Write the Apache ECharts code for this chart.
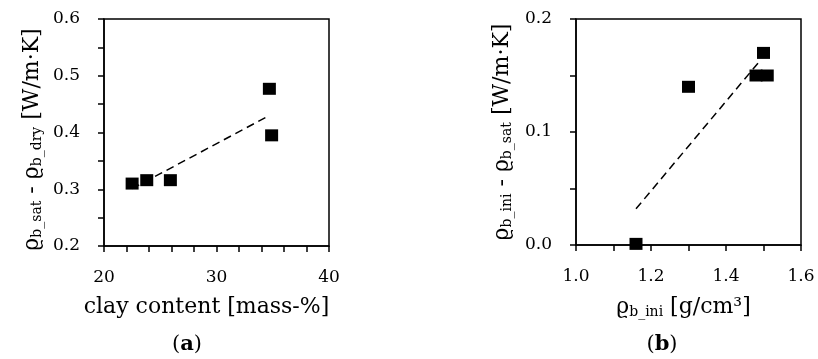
<!DOCTYPE html>
<html><head><meta charset="utf-8">
<script src="https://cdn.jsdelivr.net/npm/echarts@6/dist/echarts.min.js"></script>
<style>html,body{margin:0;padding:0;background:#fff}#c{width:818px;height:359px}</style>
</head><body><div id="c"></div>
<script>
// Chart (a): clay content vs conductivity difference
const clayContent = [22.5, 23.8, 25.9, 34.7, 34.9];
const deltaSatDry = [0.310, 0.316, 0.316, 0.477, 0.395];
const trendA_x = [22.5, 34.7];
const trendA_y = [0.301, 0.430];
// Chart (b): initial bulk density vs conductivity difference
const densityIni = [1.16, 1.30, 1.48, 1.51, 1.50];
const deltaIniSat = [0.001, 0.140, 0.150, 0.150, 0.170];
const trendB_x = [1.16, 1.493];
const trendB_y = [0.032, 0.164];
const ticksA_y = [0.2, 0.6];
const ticksA_x = [20, 40];
const ticksB_y = [0, 0.2];
const ticksB_x = [1.0, 1.6];

const FONT = 'DejaVu Serif';
const chart = echarts.init(document.getElementById('c'), null, {renderer: 'canvas'});
const pairs = (xs, ys) => xs.map((x, i) => [x, ys[i]]);
const richName = {
  r: {fontFamily: FONT, fontSize: 22, color: '#000'},
  s: {fontFamily: FONT, fontSize: 14, color: '#000', padding: [10, 0, 0, 0]}
};

function xAxis(gi, mn, mx, iv, minorSplit, fmt, name, pad) {
  return {
    type: 'value', gridIndex: gi, min: mn, max: mx, interval: iv,
    axisLine: {show: true, onZero: false, lineStyle: {color: '#000', width: 1.5}},
    axisTick: {show: true, inside: false, length: 6, lineStyle: {color: '#000', width: 1.5}},
    minorTick: {show: true, splitNumber: minorSplit, length: 6, lineStyle: {color: '#000', width: 1.5}},
    splitLine: {show: false},
    axisLabel: {color: '#000', fontFamily: FONT, fontSize: 17, margin: 23, formatter: fmt},
    name: name, nameLocation: 'middle', nameGap: 50,
    nameTextStyle: {color: '#000', fontFamily: FONT, fontSize: 22, padding: pad, rich: richName}
  };
}
function yAxis(gi, mn, mx, iv, fmt, name, gap, pad) {
  return {
    type: 'value', gridIndex: gi, min: mn, max: mx, interval: iv,
    axisLine: {show: true, onZero: false, lineStyle: {color: '#000', width: 1.5}},
    axisTick: {show: true, inside: false, length: 6, lineStyle: {color: '#000', width: 1.5}},
    minorTick: {show: true, splitNumber: 2, length: 6, lineStyle: {color: '#000', width: 1.5}},
    splitLine: {show: false},
    axisLabel: {color: '#000', fontFamily: FONT, fontSize: 17, margin: 24, formatter: fmt},
    name: name, nameLocation: 'middle', nameGap: gap, nameRotate: 90,
    nameTextStyle: {color: '#000', fontFamily: FONT, fontSize: 22, padding: pad, rich: richName}
  };
}

chart.setOption({
  animation: false,
  grid: [
    {left: 104, top: 19, width: 225, height: 227, show: true, borderColor: '#000', borderWidth: 1.5, backgroundColor: 'transparent'},
    {left: 576, top: 19, width: 225, height: 226, show: true, borderColor: '#000', borderWidth: 1.5, backgroundColor: 'transparent'}
  ],
  xAxis: [
    xAxis(0, ticksA_x[0], ticksA_x[1], 10, 5, v => String(v), 'clay content [mass-%]', [0, 20, 0, 0]),
    xAxis(1, ticksB_x[0], ticksB_x[1], 0.2, 2, v => v.toFixed(1), '{r|ϱ}{s|b_ini}{r| [g/cm³]}', [0, 10, 0, 0])
  ],
  yAxis: [
    yAxis(0, ticksA_y[0], ticksA_y[1], 0.1, v => v.toFixed(1), '{r|ϱ}{s|b_sat}{r| - ϱ}{s|b_dry}{r| [W/m·K]}', 60, [0, 14, 0, 0]),
    yAxis(1, ticksB_y[0], ticksB_y[1], 0.1, v => v.toFixed(1), '{r|ϱ}{s|b_ini}{r| - ϱ}{s|b_sat}{r| [W/m·K]}', 62, [0, 0, 0, 0])
  ],
  title: [
    {text: '({b|a})', left: 182, top: 329, textAlign: 'center',
      textStyle: {fontFamily: FONT, fontSize: 21, fontWeight: 'normal', color: '#000', rich: {b: {fontFamily: FONT, fontSize: 21, fontWeight: 'bold', color: '#000'}}}},
    {text: '({b|b})', left: 657, top: 329, textAlign: 'center',
      textStyle: {fontFamily: FONT, fontSize: 21, fontWeight: 'normal', color: '#000', rich: {b: {fontFamily: FONT, fontSize: 21, fontWeight: 'bold', color: '#000'}}}}
  ],
  series: [
    {type: 'line', xAxisIndex: 0, yAxisIndex: 0, data: pairs(trendA_x, trendA_y), symbol: 'none',
      lineStyle: {color: '#000', width: 1.5, type: [8, 5]}, z: 1},
    {type: 'scatter', xAxisIndex: 0, yAxisIndex: 0, data: pairs(clayContent, deltaSatDry), symbol: 'rect', symbolSize: [13, 12],
      itemStyle: {color: '#000', opacity: 1}, z: 3},
    {type: 'line', xAxisIndex: 1, yAxisIndex: 1, data: pairs(trendB_x, trendB_y), symbol: 'none',
      lineStyle: {color: '#000', width: 1.5, type: [8, 5]}, z: 1},
    {type: 'scatter', xAxisIndex: 1, yAxisIndex: 1, data: pairs(densityIni, deltaIniSat), symbol: 'rect', symbolSize: [13, 12],
      itemStyle: {color: '#000', opacity: 1}, z: 3}
  ]
});
</script></body></html>
